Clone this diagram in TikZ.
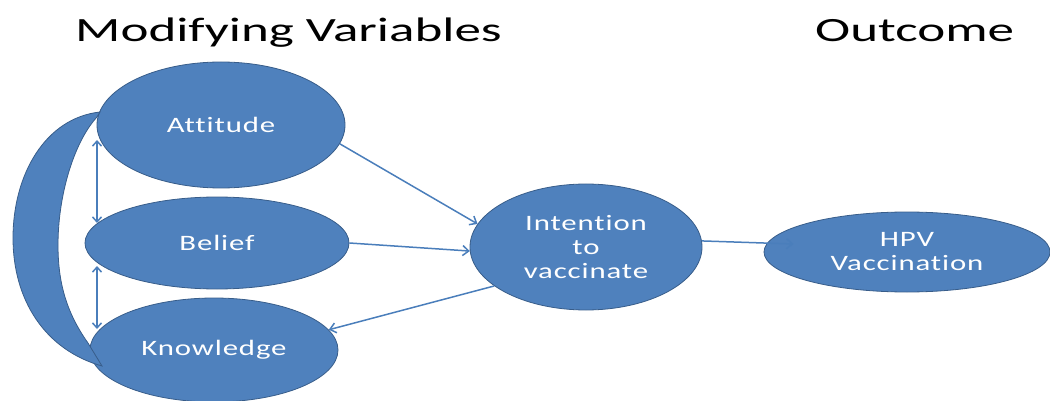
\documentclass[tikz,border=0pt]{standalone}
\usepackage{fontspec}
\setmainfont{Carlito}
\newfontfamily\titlefont[FakeStretch=1.56,Ligatures=NoCommon]{Carlito}
\newfontfamily\nodefont[FakeStretch=1.4,LetterSpace=4,Ligatures=NoCommon]{Carlito}
\usetikzlibrary{shapes.geometric,arrows.meta}
\definecolor{fillblue}{HTML}{4F81BD}
\definecolor{lineblue}{HTML}{385D8A}
\definecolor{arrowblue}{HTML}{4A7EBB}
\begin{document}
\begin{tikzpicture}[x=1pt,y=-1pt,
  oval/.style={ellipse, fill=fillblue, draw=lineblue, line width=0.8pt, inner sep=0pt,
    text=white, align=center, font=\nodefont\fontsize{22}{24}\selectfont},
  conn/.style={draw=arrowblue, line width=1.5pt, -{Straight Barb[length=6pt,width=10pt]}},
  dconn/.style={draw=arrowblue, line width=1.5pt, {Straight Barb[length=5pt,width=9pt]}-{Straight Barb[length=5pt,width=9pt]}},
  titletext/.style={inner sep=0pt, anchor=base west, font=\titlefont\fontsize{34}{40}\selectfont}]
\useasboundingbox (0,0) rectangle (1050,401);

\node[titletext] (t1) at (75,42) {Modifying Variables};
\node[titletext] (t2) at (815,42) {Outcome};

\node[oval, minimum width=248pt, minimum height=126pt] (att) at (221,125) {Attitude};
\node[oval, minimum width=264pt, minimum height=92pt] (bel) at (217,243) {Belief};
\node[oval, minimum width=248pt, minimum height=104pt] (kno) at (214,350) {Knowledge};
\node[oval, minimum width=232pt, minimum height=126pt] (int) at (586,247) {Intention\\to\\vaccinate};
\node[oval, minimum width=286pt, minimum height=80pt] (hpv) at (907,252) {HPV\\Vaccination};

% crescent
\path[fill=fillblue, draw=lineblue, line width=0.8pt]
  (100,112) .. controls (45,118) and (13,175) .. (13,238)
  .. controls (13,300) and (45,350) .. (102,366)
  -- (88,343) .. controls (66,312) and (58,282) .. (58,245)
  .. controls (58,195) and (74,142) .. (97,117) -- cycle;

% vertical double arrows
\coordinate (v1) at (97,140);
\coordinate (v2) at (97,223);
\coordinate (v3) at (97,266);
\coordinate (v4) at (97,329);
\draw[dconn] (v1) -- (v2);
\draw[dconn] (v3) -- (v4);

% connectors
\draw[conn] (att.-9) -- (int.168);
\draw[conn] (bel.east) -- (int.182);
\draw[conn] (int.203) -- (kno.10);
\coordinate (hin) at ([shift={(30pt,8pt)}]hpv.west);
\draw[conn] (int.3) -- (hin);
\end{tikzpicture}
\end{document}
